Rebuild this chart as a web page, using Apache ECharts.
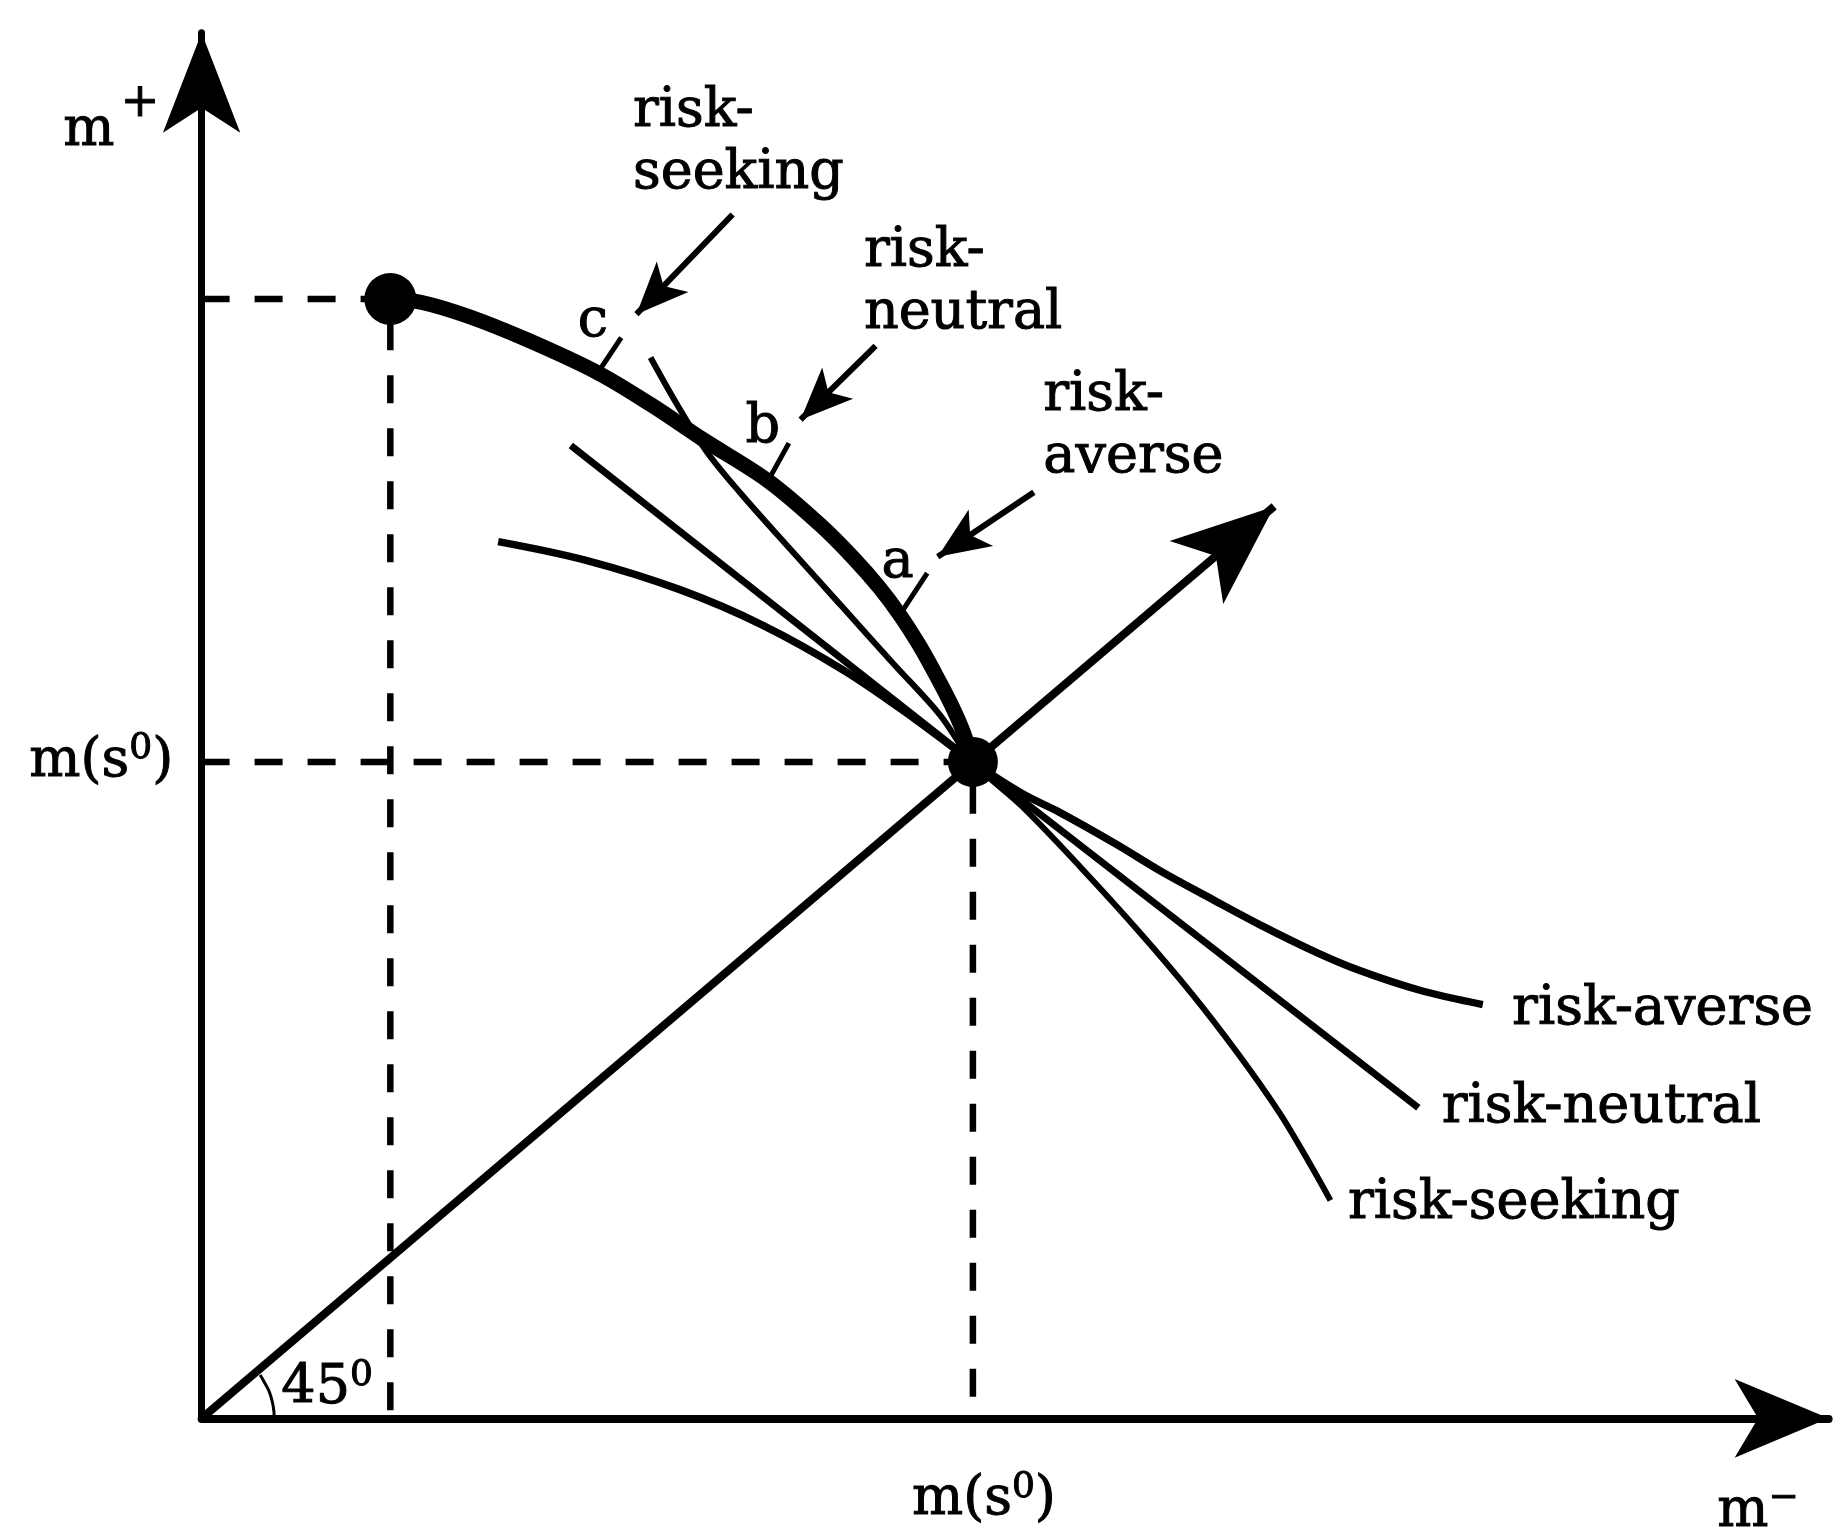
<!DOCTYPE html>
<html>
<head>
<meta charset="utf-8">
<script src="https://cdn.jsdelivr.net/npm/echarts@6/dist/echarts.min.js"></script>
<style>
  html, body { margin: 0; padding: 0; background: #fff; }
  #main { width: 1838px; height: 1540px; }
</style>
</head>
<body>
<div id="main"></div>
<script>
	// units: 1 unit = 1838/1568 px, origin at the axes corner
	const K = 1838 / 1568;

	// the thick frontier from the endowment dot down to m(s0)
	const thickCurve = [[161, 955], [188, 952], [228, 940], [278, 920], [338, 892], [383, 865], [428, 835], [483, 800],
		[528, 762], [556, 734], [578, 709], [596, 685], [612, 660], [626, 635], [639, 610], [650, 585], [658, 560]];
	// indifference curves through m(s0)
	const riskSeeking = [[383, 905], [405, 866], [430, 826], [460, 789], [500, 744], [545, 694], [590, 644], [630, 600],
		[658, 560], [700, 522], [750, 470], [800, 415], [845, 362], [885, 310], [920, 260], [945, 218], [963, 186]];
	const riskNeutral = [[315, 830], [658, 560], [1038, 265]];
	const riskAverse = [[253, 748], [328, 732], [408, 707], [478, 677], [548, 638], [608, 597], [658, 560], [700, 533],
		[732, 517], [780, 490], [818, 467], [860, 444], [903, 421], [950, 398], [988, 382], [1040, 365], [1093, 353]];

	// dashed guides
	const guideUpper = [[0, 955], [161, 955], [161, 0]];
	const guideMid = [[0, 560], [658, 560], [658, 0]];

	// dots
	const dotPoints = [[161, 955], [658, 560]];
	const dotSizes = [52, 50];

	// 45 degree arc
	const angleArc = [[62, 0], [61, 11], [58, 22], [54, 30], [50, 37]];

	// small marks c, b, a on the frontier
	const tickMarks = [[[340, 895], [358, 922]], [[485, 803], [501, 832]], [[598, 689], [619, 721]]];

	// pointer arrows (tail -> tip)
	const pointerFrom = [[453, 1027], [575, 915], [710, 790]];
	const pointerTo = [[371, 942], [511, 852], [628, 735]];
	const diagFrom = [0, 0];
	const diagTo = [915, 778];

	// texts
	const labelTexts = ['m', '{plus|+}', 'm(s{sup|0})', 'm(s{sup|0})', 'm{sup|−}', '45{sup|0}',
		'risk-\nseeking', 'risk-\nneutral', 'risk-\naverse',
		'risk-averse', 'risk-neutral', 'risk-seeking', 'c', 'b', 'a'];
	const labelPos = [[-118, 1098], [-69, 1121], [-147, 560], [606, -70], [1293, -80], [68, 25],
		[368, 1088], [565, 969], [718, 846],
		[1118, 348], [1058, 265], [978, 183], [321, 935], [464, 845], [580, 730]];

	const font = 'DejaVu Serif';

	let chart = echarts.init(document.getElementById('main'));

	let lineSeries = function (data, width, smooth, dash) {
		return {
			type: 'line',
			data: data,
			showSymbol: false,
			symbol: 'none',
			smooth: smooth,
			silent: true,
			clip: false,
			lineStyle: {
				color: '#000',
				width: width,
				type: dash ? [28, 25] : 'solid',
				cap: 'butt'
			},
			z: 2
		};
	};

	let arrowSeries = function (pairs, size, width) {
		return {
			type: 'line',
			data: [diagFrom],
			symbol: 'none',
			silent: true,
			markLine: {
				silent: true,
				animation: false,
				symbol: size ? ['none', 'arrow'] : ['none', 'none'],
				symbolSize: size || 0,
				label: { show: false },
				lineStyle: { color: '#000', width: width, type: 'solid', opacity: 1 },
				data: pairs.map(p => [{ coord: p[0] }, { coord: p[1] }])
			}
		};
	};

	let textStyle = function (size) {
		return {
			fontFamily: font,
			fontSize: size,
			color: '#000',
			textBorderColor: '#000',
			textBorderWidth: 1
		};
	};

	let option = {
		backgroundColor: '#fff',
		animation: false,
		grid: {
			left: 201.6,
			bottom: 121.65,
			right: 9.4,
			top: 32.85
		},
		xAxis: {
			type: 'value',
			min: 0,
			max: 1388,
			splitLine: { show: false },
			axisTick: { show: false },
			axisLabel: { show: false },
			axisLine: {
				symbol: ['none', 'arrow'],
				symbolSize: [59, 94],
				lineStyle: { color: '#000', width: 8 }
			}
		},
		yAxis: {
			type: 'value',
			min: 0,
			max: 1182,
			splitLine: { show: false },
			axisTick: { show: false },
			axisLabel: { show: false },
			axisLine: {
				symbol: ['none', 'arrow'],
				symbolSize: [58, 100],
				lineStyle: { color: '#000', width: 7 }
			}
		},
		series: [
			lineSeries(guideUpper, 6.5, false, true),
			lineSeries(guideMid, 6.5, false, true),
			lineSeries(riskAverse, 7.5, 0.35, false),
			lineSeries(riskNeutral, 7, false, false),
			lineSeries(riskSeeking, 6, 0.35, false),
			lineSeries(thickCurve, 15, 0.35, false),
			lineSeries(angleArc, 3, 0.5, false),
			// 45 degree line with arrow
			arrowSeries([[diagFrom, diagTo]], [62, 102], 8),
			// pointers from the labels
			arrowSeries(pointerFrom.map((p, i) => [p, pointerTo[i]]), [33, 52], 6),
			// marks c, b, a
			arrowSeries(tickMarks, null, 5),
			{
				type: 'scatter',
				data: dotPoints.map((p, i) => ({ value: p, symbolSize: dotSizes[i] })),
				itemStyle: { color: '#000', opacity: 1 },
				silent: true,
				clip: false,
				z: 5
			},
			{
				type: 'scatter',
				symbolSize: 0,
				silent: true,
				clip: false,
				itemStyle: { opacity: 1 },
				data: labelPos.map((p, i) => ({
					value: p,
					label: { formatter: labelTexts[i] }
				})),
				label: Object.assign(textStyle(54), {
					show: true,
					position: 'inside',
					align: 'left',
					verticalAlign: 'middle',
					lineHeight: 62,
					rich: {
						sup: Object.assign(textStyle(36), { lineHeight: 36, verticalAlign: 'top' }),
						plus: Object.assign(textStyle(46), { lineHeight: 50 })
					}
				}),
				z: 6
			}
		]
	};
	chart.setOption(option);
</script>
</body>
</html>
